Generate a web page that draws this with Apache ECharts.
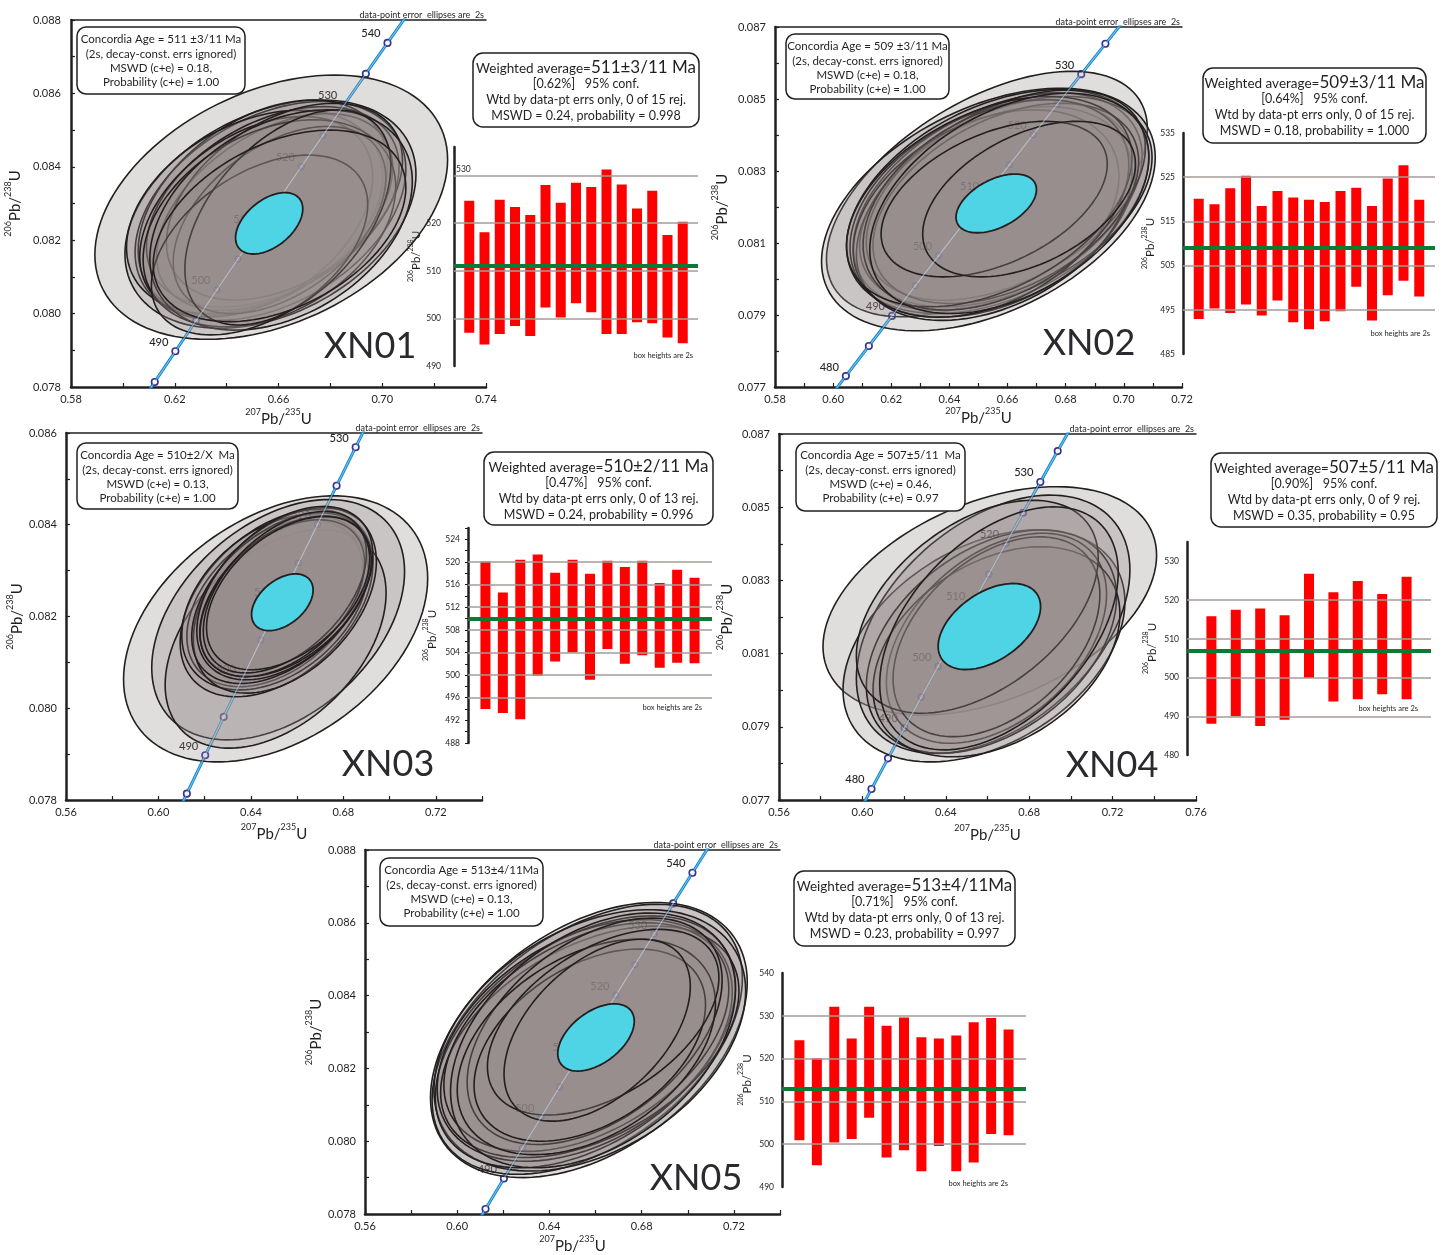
<!DOCTYPE html>
<html>
<head>
<meta charset="utf-8">
<title>U–Pb concordia and weighted mean ages, XN01–XN05</title>
<script src="https://cdn.jsdelivr.net/npm/echarts@6/dist/echarts.min.js"></script>
<style>
  html, body { margin: 0; padding: 0; background: #ffffff; }
  #chart { width: 1444px; height: 1255px; }
</style>
</head>
<body>
<div id="chart"></div>
<script>
// ---------------------------------------------------------------------------
// Decay constants (Jaffey et al. 1971) and the concordia ages that get a marker
// ---------------------------------------------------------------------------
const LAMBDA_238 = 1.55125e-10;
const LAMBDA_235 = 9.8485e-10;
const concordiaAges = [470, 475, 480, 485, 490, 495, 500, 505, 510, 515, 520, 525, 530, 535, 540, 545, 550, 555];

// Error ellipses: [207Pb/235U, 206Pb/238U, half-width x (2s), half-width y (2s), rho]

// ----- XN01 -----
const xn01Ellipses = [
  [0.6572, 0.08290, 0.0680, 0.00360, 0.36],
  [0.6569, 0.08271, 0.0561, 0.00311, 0.35],
  [0.6569, 0.08280, 0.0522, 0.00298, 0.38],
  [0.6540, 0.08289, 0.0481, 0.00293, 0.40],
  [0.6508, 0.08277, 0.0494, 0.00277, 0.35],
  [0.6578, 0.08291, 0.0487, 0.00273, 0.40],
  [0.6585, 0.08277, 0.0455, 0.00268, 0.45],
  [0.6514, 0.08264, 0.0449, 0.00273, 0.40],
  [0.6623, 0.08305, 0.0455, 0.00268, 0.42],
  [0.6565, 0.08246, 0.0487, 0.00282, 0.35],
  [0.6604, 0.08255, 0.0410, 0.00255, 0.45],
  [0.6610, 0.08255, 0.0506, 0.00300, 0.35],
  [0.6527, 0.08187, 0.0417, 0.00245, 0.45],
  [0.6636, 0.08262, 0.0397, 0.00293, 0.48],
  [0.6604, 0.08239, 0.0487, 0.00261, 0.40]
];
const xn01ConcordiaEllipse = [[0.6564, 0.08246, 0.01295, 0.000836, 0.47]];
const xn01AgeLow  = [497.0, 494.5, 496.7, 498.4, 496.3, 502.3, 500.2, 503.2, 501.3, 496.7, 496.7, 499.2, 499.0, 496.0, 494.8];
const xn01AgeHigh = [524.7, 518.1, 524.9, 523.4, 521.7, 528.0, 524.3, 528.5, 527.6, 531.3, 528.1, 523.1, 526.8, 517.5, 520.3];
const xn01WeightedAge = 511;
const xn01XLabels = [0.58, 0.62, 0.66, 0.70, 0.74];
const xn01YLabels = [0.078, 0.080, 0.082, 0.084, 0.086, 0.088];
const xn01BarLabels = [490, 500, 510, 520, 530];
const xn01BarLines = [500, 510, 520, 530];
const xn01ConcordiaText = ['Concordia Age = 511 ±3/11 Ma', '(2s, decay-const. errs ignored)', 'MSWD (c+e) = 0.18,', 'Probability (c+e) = 1.00'];
const xn01WeightedText = ['511±3/11 Ma', '[0.62%]   95% conf.', 'Wtd by data-pt errs only, 0 of 15 rej.', 'MSWD = 0.24, probability = 0.998'];

// ----- XN02 -----
const xn02Ellipses = [
  [0.6529, 0.08236, 0.0552, 0.00341, 0.53],
  [0.6534, 0.08193, 0.0574, 0.00337, 0.43],
  [0.6566, 0.08215, 0.0520, 0.00311, 0.40],
  [0.6566, 0.08215, 0.0497, 0.00302, 0.42],
  [0.6549, 0.08196, 0.0491, 0.00302, 0.36],
  [0.6594, 0.08215, 0.0503, 0.00292, 0.42],
  [0.6554, 0.08182, 0.0474, 0.00297, 0.38],
  [0.6594, 0.08233, 0.0480, 0.00292, 0.45],
  [0.6526, 0.08182, 0.0457, 0.00288, 0.36],
  [0.6594, 0.08210, 0.0457, 0.00278, 0.42],
  [0.6560, 0.08206, 0.0457, 0.00292, 0.38],
  [0.6537, 0.08215, 0.0491, 0.00292, 0.42],
  [0.6606, 0.08210, 0.0480, 0.00306, 0.42],
  [0.6554, 0.08222, 0.0389, 0.00216, 0.45],
  [0.6674, 0.08222, 0.0366, 0.00216, 0.45]
];
const xn02ConcordiaEllipse = [[0.6561, 0.08210, 0.01383, 0.000816, 0.47]];
const xn02AgeLow  = [492.9, 495.3, 494.3, 496.2, 493.7, 497.1, 492.2, 490.6, 492.4, 494.7, 500.2, 492.6, 498.3, 501.6, 498.0];
const xn02AgeHigh = [520.1, 518.9, 522.5, 525.3, 518.5, 521.9, 520.4, 519.9, 519.4, 521.9, 522.6, 518.5, 524.7, 527.7, 519.9];
const xn02WeightedAge = 509;
const xn02XLabels = [0.58, 0.60, 0.62, 0.64, 0.66, 0.68, 0.70, 0.72];
const xn02YLabels = [0.077, 0.079, 0.081, 0.083, 0.085, 0.087];
const xn02BarLabels = [485, 495, 505, 515, 525, 535];
const xn02BarLines = [495, 505, 515, 525];
const xn02ConcordiaText = ['Concordia Age = 509 ±3/11 Ma', '(2s, decay-const. errs ignored)', 'MSWD (c+e) = 0.18,', 'Probability (c+e) = 1.00'];
const xn02WeightedText = ['509±3/11 Ma', '[0.64%]   95% conf.', 'Wtd by data-pt errs only, 0 of 15 rej.', 'MSWD = 0.18, probability = 1.000'];

// ----- XN03 -----
const xn03Ellipses = [
  [0.6507, 0.08173, 0.0658, 0.00290, 0.38],
  [0.6518, 0.08193, 0.0547, 0.00262, 0.40],
  [0.6507, 0.08151, 0.0478, 0.00238, 0.42],
  [0.6511, 0.08229, 0.0417, 0.00204, 0.42],
  [0.6504, 0.08229, 0.0381, 0.00182, 0.40],
  [0.6504, 0.08231, 0.0403, 0.00191, 0.38],
  [0.6547, 0.08235, 0.0396, 0.00202, 0.42],
  [0.6529, 0.08240, 0.0385, 0.00186, 0.45],
  [0.6547, 0.08251, 0.0381, 0.00189, 0.44],
  [0.6550, 0.08244, 0.0371, 0.00175, 0.45],
  [0.6536, 0.08240, 0.0356, 0.00171, 0.45],
  [0.6547, 0.08253, 0.0353, 0.00176, 0.48],
  [0.6561, 0.08251, 0.0353, 0.00167, 0.45]
];
const xn03ConcordiaEllipse = [[0.6536, 0.08231, 0.01331, 0.000618, 0.43]];
const xn03AgeLow  = [494.0, 493.3, 492.2, 499.9, 502.4, 504.0, 499.2, 504.6, 502.0, 503.5, 501.3, 502.2, 502.1];
const xn03AgeHigh = [520.1, 514.6, 520.4, 521.3, 518.1, 520.4, 517.9, 520.2, 519.1, 520.2, 516.3, 518.6, 517.2];
const xn03WeightedAge = 510;
const xn03XLabels = [0.56, 0.60, 0.64, 0.68, 0.72];
const xn03YLabels = [0.078, 0.080, 0.082, 0.084, 0.086];
const xn03BarLabels = [488, 492, 496, 500, 504, 508, 512, 516, 520, 524];
const xn03BarLines = [496, 500, 504, 508, 512, 516, 520];
const xn03ConcordiaText = ['Concordia Age = 510±2/X  Ma', '(2s, decay-const. errs ignored)', 'MSWD (c+e) = 0.13,', 'Probability (c+e) = 1.00'];
const xn03WeightedText = ['510±2/11 Ma', '[0.47%]   95% conf.', 'Wtd by data-pt errs only, 0 of 13 rej.', 'MSWD = 0.24, probability = 0.996'];

// ----- XN04 -----
const xn04Ellipses = [
  [0.6611, 0.08244, 0.0800, 0.00312, 0.40],
  [0.6583, 0.08121, 0.0676, 0.00317, 0.38],
  [0.6627, 0.08180, 0.0656, 0.00353, 0.42],
  [0.6619, 0.08133, 0.0600, 0.00305, 0.40],
  [0.6643, 0.08142, 0.0528, 0.00287, 0.42],
  [0.6643, 0.08105, 0.0592, 0.00287, 0.36],
  [0.6643, 0.08146, 0.0496, 0.00273, 0.42],
  [0.6551, 0.08228, 0.0580, 0.00291, 0.46],
  [0.6655, 0.08169, 0.0572, 0.00332, 0.46]
];
const xn04ConcordiaEllipse = [[0.6609, 0.08174, 0.02456, 0.001175, 0.46]];
const xn04AgeLow  = [488.1, 490.0, 487.5, 489.1, 499.9, 493.8, 494.4, 495.7, 494.4];
const xn04AgeHigh = [515.8, 517.5, 517.8, 516.1, 526.8, 522.0, 524.9, 521.6, 526.0];
const xn04WeightedAge = 507;
const xn04XLabels = [0.56, 0.60, 0.64, 0.68, 0.72, 0.76];
const xn04YLabels = [0.077, 0.079, 0.081, 0.083, 0.085, 0.087];
const xn04BarLabels = [480, 490, 500, 510, 520, 530];
const xn04BarLines = [490, 500, 510, 520];
const xn04ConcordiaText = ['Concordia Age = 507±5/11  Ma', '(2s, decay-const. errs ignored)', 'MSWD (c+e) = 0.46,', 'Probability (c+e) = 0.97'];
const xn04WeightedText = ['507±5/11 Ma', '[0.90%]   95% conf.', 'Wtd by data-pt errs only, 0 of 9 rej.', 'MSWD = 0.35, probability = 0.95'];

// ----- XN05 -----
const xn05Ellipses = [
  [0.6571, 0.08278, 0.0687, 0.00378, 0.42],
  [0.6564, 0.08280, 0.0673, 0.00371, 0.45],
  [0.6575, 0.08277, 0.0676, 0.00359, 0.38],
  [0.6556, 0.08273, 0.0651, 0.00346, 0.44],
  [0.6553, 0.08277, 0.0640, 0.00332, 0.40],
  [0.6575, 0.08273, 0.0647, 0.00318, 0.44],
  [0.6560, 0.08286, 0.0618, 0.00314, 0.42],
  [0.6589, 0.08277, 0.0618, 0.00350, 0.40],
  [0.6596, 0.08302, 0.0553, 0.00311, 0.45],
  [0.6560, 0.08259, 0.0560, 0.00296, 0.40],
  [0.6575, 0.08264, 0.0502, 0.00264, 0.42],
  [0.6633, 0.08327, 0.0502, 0.00255, 0.48],
  [0.6607, 0.08305, 0.0404, 0.00250, 0.48]
];
const xn05ConcordiaEllipse = [[0.6602, 0.08285, 0.01658, 0.000923, 0.48]];
const xn05AgeLow  = [500.9, 495.1, 500.4, 501.2, 506.2, 496.9, 498.6, 493.7, 499.6, 493.7, 495.7, 502.4, 502.1];
const xn05AgeHigh = [524.3, 520.1, 532.1, 524.7, 532.1, 527.7, 529.6, 525.0, 524.7, 525.4, 528.5, 529.5, 526.8];
const xn05WeightedAge = 513;
const xn05XLabels = [0.56, 0.60, 0.64, 0.68, 0.72];
const xn05YLabels = [0.078, 0.080, 0.082, 0.084, 0.086, 0.088];
const xn05BarLabels = [490, 500, 510, 520, 530, 540];
const xn05BarLines = [500, 510, 520, 530];
const xn05ConcordiaText = ['Concordia Age = 513±4/11Ma', '(2s, decay-const. errs ignored)', 'MSWD (c+e) = 0.13,', 'Probability (c+e) = 1.00'];
const xn05WeightedText = ['513±4/11Ma', '[0.71%]   95% conf.', 'Wtd by data-pt errs only, 0 of 13 rej.', 'MSWD = 0.23, probability = 0.997'];

// ---------------------------------------------------------------------------
// Styling and layout
// ---------------------------------------------------------------------------
const FONT = 'Lato, "Noto Sans", sans-serif';
const INK = '#231f20';
const ELLIPSE_FILL = 'rgba(153,143,141,0.30)';
const CYAN = '#4fd4e6';
const CONCORDIA_BLUE = '#0a88cf';
const MARKER_BLUE = '#2e3192';
const BAR_RED = '#ff0000';
const MEAN_GREEN = '#0b7a33';
const GRID_GREY = '#a39c99';

const panels = [
  {
    id: 'XN01', ell: xn01Ellipses, mean: xn01ConcordiaEllipse, lo: xn01AgeLow, hi: xn01AgeHigh, wtd: xn01WeightedAge,
    xLabels: xn01XLabels, yLabels: xn01YLabels, barLabels: xn01BarLabels, barLines: xn01BarLines,
    concText: xn01ConcordiaText, wText: xn01WeightedText,
    conc: { left: 71, top: 20, width: 415, height: 367, xMax: 0.74, xTick: 0.02, yMax: 0.088, yGap: 48, xGap: 21, yMargin: 10 },
    bar: { left: 454, top: 147, width: 244, height: 219, max: 536, interval: 10, nameGap: 19, margin: 13, topInside: 530 },
    cBox: [77, 27, 168, 67], wBox: [473, 53, 226, 74], idPos: [370, 346], boxNote: [693, 356]
  },
  {
    id: 'XN02', ell: xn02Ellipses, mean: xn02ConcordiaEllipse, lo: xn02AgeLow, hi: xn02AgeHigh, wtd: xn02WeightedAge,
    xLabels: xn02XLabels, yLabels: xn02YLabels, barLabels: xn02BarLabels, barLines: xn02BarLines,
    concText: xn02ConcordiaText, wText: xn02WeightedText,
    conc: { left: 775, top: 27, width: 407, height: 360, xMax: 0.72, xTick: 0.01, yMax: 0.087, yGap: 45, xGap: 20, yMargin: 9 },
    bar: { left: 1183, top: 133, width: 252, height: 221, max: 535, interval: 10, nameGap: 26, margin: 8 },
    cBox: [786, 34, 163, 65], wBox: [1203, 68, 223, 75], idPos: [1089, 343], boxNote: [1430, 334]
  },
  {
    id: 'XN03', ell: xn03Ellipses, mean: xn03ConcordiaEllipse, lo: xn03AgeLow, hi: xn03AgeHigh, wtd: xn03WeightedAge,
    xLabels: xn03XLabels, yLabels: xn03YLabels, barLabels: xn03BarLabels, barLines: xn03BarLines,
    concText: xn03ConcordiaText, wText: xn03WeightedText,
    conc: { left: 66, top: 433, width: 416, height: 367, xMax: 0.74, xTick: 0.02, yMax: 0.086, yGap: 39, xGap: 23, yMargin: 9 },
    bar: { left: 468, top: 528, width: 244, height: 215, max: 526, interval: 4, nameGap: 30, margin: 8, ticks: true },
    cBox: [77, 443, 161, 66], wBox: [484, 452, 229, 73], idPos: [388, 764], boxNote: [702, 708]
  },
  {
    id: 'XN04', ell: xn04Ellipses, mean: xn04ConcordiaEllipse, lo: xn04AgeLow, hi: xn04AgeHigh, wtd: xn04WeightedAge,
    xLabels: xn04XLabels, yLabels: xn04YLabels, barLabels: xn04BarLabels, barLines: xn04BarLines,
    concText: xn04ConcordiaText, wText: xn04WeightedText,
    conc: { left: 779, top: 434, width: 417, height: 366, xMax: 0.76, xTick: 0.02, yMax: 0.087, yGap: 44, xGap: 24, yMargin: 9 },
    bar: { left: 1187, top: 542, width: 244, height: 213, max: 535, interval: 10, nameGap: 29, margin: 8 },
    cBox: [796, 443, 169, 68], wBox: [1211, 453, 226, 74], idPos: [1112, 765], boxNote: [1418, 709]
  },
  {
    id: 'XN05', ell: xn05Ellipses, mean: xn05ConcordiaEllipse, lo: xn05AgeLow, hi: xn05AgeHigh, wtd: xn05WeightedAge,
    xLabels: xn05XLabels, yLabels: xn05YLabels, barLabels: xn05BarLabels, barLines: xn05BarLines,
    concText: xn05ConcordiaText, wText: xn05WeightedText,
    conc: { left: 365, top: 850, width: 415, height: 367, xMax: 0.74, xTick: 0.02, yMax: 0.088, yGap: 40, xGap: 21, yMargin: 9 },
    bar: { left: 782, top: 973, width: 244, height: 214, max: 540, interval: 10, nameGap: 29, margin: 8 },
    cBox: [380, 858, 163, 68], wBox: [794, 871, 221, 75], idPos: [696, 1178], boxNote: [1008, 1184]
  }
];

// ---------------------------------------------------------------------------
// Helpers
// ---------------------------------------------------------------------------
const isListed = (v, list) => list.some(t => Math.abs(t - v) < 1e-7);

function concordiaPoint(t) {
  return [Math.expm1(LAMBDA_235 * t * 1e6), Math.expm1(LAMBDA_238 * t * 1e6), t];
}
const concordiaData = concordiaAges.map(concordiaPoint);

function ellipseRenderer(style) {
  return function (params, api) {
    const cx = api.value(0), cy = api.value(1), sx = api.value(2), sy = api.value(3), r = api.value(4);
    const k = Math.sqrt(1 - r * r);
    const pts = [];
    const n = 120;
    for (let i = 0; i < n; i++) {
      const a = (i / n) * 2 * Math.PI;
      const c = Math.cos(a), s = Math.sin(a);
      pts.push(api.coord([cx + sx * c, cy + sy * (r * c + k * s)]));
    }
    return { type: 'polygon', shape: { points: pts }, style: Object.assign({}, style) };
  };
}

function errorBoxRenderer(params, api) {
  const top = api.coord([api.value(0), api.value(2)]);
  const bottom = api.coord([api.value(0), api.value(1)]);
  const w = 10;
  return {
    type: 'rect',
    shape: { x: top[0] - w / 2, y: top[1], width: w, height: bottom[1] - top[1] },
    style: { fill: BAR_RED }
  };
}

const isoRich = (main, sup) => ({
  m: { fontSize: main, fontFamily: FONT, color: INK, lineHeight: main + 4, verticalAlign: 'bottom' },
  s: { fontSize: sup, fontFamily: FONT, color: INK, lineHeight: sup + 4, verticalAlign: 'top' }
});
const RATIO_206_238 = '{s|206}{m|Pb/}{s|238}{m|U}';
const RATIO_207_235 = '{s|207}{m|Pb/}{s|235}{m|U}';

// ---------------------------------------------------------------------------
// Build grids, axes, series and text
// ---------------------------------------------------------------------------
const grid = [], xAxis = [], yAxis = [], series = [], graphic = [];

panels.forEach(p => {
  const c = p.conc, b = p.bar;

  // ---- concordia diagram ----
  const gi = grid.length;
  grid.push({ left: c.left, top: c.top, width: c.width, height: c.height });
  const xi = xAxis.length;
  xAxis.push({
    gridIndex: gi, type: 'value', position: 'bottom',
    min: p.xLabels[0], max: c.xMax, interval: c.xTick,
    axisLine: { show: true, onZero: false, lineStyle: { color: INK, width: 2.5 } },
    axisTick: { show: true, inside: true, length: 4, lineStyle: { color: INK, width: 1.2 } },
    axisLabel: {
      color: INK, fontSize: 11, fontFamily: FONT, margin: 7, showMinLabel: true, showMaxLabel: true,
      formatter: v => (isListed(v, p.xLabels) ? v.toFixed(2) : '')
    },
    splitLine: { show: false },
    name: RATIO_207_235, nameLocation: 'middle', nameGap: c.xGap,
    nameTextStyle: { rich: isoRich(15, 9) }
  });
  xAxis.push({
    gridIndex: gi, type: 'value', position: 'top',
    min: p.xLabels[0], max: c.xMax,
    axisLine: { show: true, onZero: false, lineStyle: { color: INK, width: 1.5 } },
    axisTick: { show: false }, axisLabel: { show: false }, splitLine: { show: false }
  });
  const yi = yAxis.length;
  yAxis.push({
    gridIndex: gi, type: 'value', position: 'left',
    min: p.yLabels[0], max: c.yMax, interval: 0.001,
    axisLine: { show: true, onZero: false, lineStyle: { color: INK, width: 2.5 } },
    axisTick: { show: true, inside: true, length: 4, lineStyle: { color: INK, width: 1.2 } },
    axisLabel: {
      color: INK, fontSize: 11, fontFamily: FONT, margin: c.yMargin, showMinLabel: true, showMaxLabel: true,
      formatter: v => (isListed(v, p.yLabels) ? v.toFixed(3) : '')
    },
    splitLine: { show: false },
    name: RATIO_206_238, nameLocation: 'middle', nameGap: c.yGap, nameRotate: 90,
    nameTextStyle: { rich: isoRich(15, 9) }
  });

  const ageLabel = (color) => ({
    show: true, position: 'left', distance: 3, offset: [0, -9],
    color: color, fontSize: 11, fontFamily: FONT,
    formatter: q => (q.value[2] % 10 === 0 ? String(q.value[2]) : '')
  });

  series.push({
    type: 'line', xAxisIndex: xi, yAxisIndex: yi, data: concordiaData, z: 2, clip: true,
    symbol: 'circle', symbolSize: 6.5, showSymbol: true, smooth: false,
    lineStyle: { color: CONCORDIA_BLUE, width: 3 },
    itemStyle: { color: '#ffffff', borderColor: MARKER_BLUE, borderWidth: 1.6 },
    label: ageLabel(INK), emphasis: { disabled: true }, silent: true
  });
  series.push({
    type: 'custom', xAxisIndex: xi, yAxisIndex: yi, data: p.ell, z: 3,
    encode: { x: 0, y: 1 },
    renderItem: ellipseRenderer({ fill: ELLIPSE_FILL, stroke: INK, lineWidth: 1.6 }),
    silent: true
  });
  // faint trace of the concordia seen through the stacked ellipses
  series.push({
    type: 'line', xAxisIndex: xi, yAxisIndex: yi, data: concordiaData, z: 4, clip: true,
    symbol: 'circle', symbolSize: 6, showSymbol: true,
    lineStyle: { color: 'rgba(205,228,242,0.55)', width: 1.2 },
    itemStyle: { color: 'rgba(0,0,0,0)', borderColor: 'rgba(70,80,160,0.25)', borderWidth: 1 },
    label: ageLabel('rgba(35,31,32,0.22)'), emphasis: { disabled: true }, silent: true
  });
  series.push({
    type: 'custom', xAxisIndex: xi, yAxisIndex: yi, data: p.mean, z: 5,
    encode: { x: 0, y: 1 },
    renderItem: ellipseRenderer({ fill: CYAN, stroke: INK, lineWidth: 1.8 }),
    silent: true
  });

  // ---- weighted mean plot ----
  const bgi = grid.length;
  grid.push({ left: b.left, top: b.top, width: b.width, height: b.height });
  const bxi = xAxis.length;
  xAxis.push({ gridIndex: bgi, type: 'value', min: 0, max: p.lo.length + 1, show: false });
  const byi = yAxis.length;
  yAxis.push({
    gridIndex: bgi, type: 'value', position: 'left',
    min: p.barLabels[0], max: b.max, interval: b.interval,
    axisLine: { show: true, onZero: false, lineStyle: { color: INK, width: 2.5 } },
    axisTick: b.ticks ? { show: true, length: 3, lineStyle: { color: INK, width: 1 } } : { show: false },
    minorTick: b.ticks ? { show: true, splitNumber: 2, length: 3, lineStyle: { color: INK, width: 1 } } : { show: false },
    axisLabel: {
      color: INK, fontSize: 8.5, fontFamily: FONT, margin: b.margin, showMinLabel: true, showMaxLabel: true,
      formatter: v => (isListed(v, p.barLabels) && v !== b.topInside ? String(v) : '')
    },
    splitLine: { show: false },
    name: RATIO_206_238, nameLocation: 'middle', nameGap: b.nameGap, nameRotate: 90,
    nameTextStyle: { rich: isoRich(11.5, 7) }
  });

  series.push({
    type: 'line', xAxisIndex: bxi, yAxisIndex: byi, data: [], z: 1, silent: true,
    markLine: {
      silent: true, symbol: 'none', animation: false,
      lineStyle: { color: GRID_GREY, width: 1.6, type: 'solid' },
      label: { show: false },
      data: p.barLines.map(v => ({
        yAxis: v,
        label: v === b.topInside
          ? { show: true, position: 'insideStartTop', distance: 2, formatter: String(v), color: INK, fontSize: 8.5, fontFamily: FONT }
          : { show: false }
      }))
    }
  });
  series.push({
    type: 'custom', xAxisIndex: bxi, yAxisIndex: byi, z: 2, silent: true,
    encode: { x: 0, y: [1, 2] },
    data: p.lo.map((v, i) => [i + 1, v, p.hi[i]]),
    renderItem: errorBoxRenderer
  });
  series.push({
    type: 'line', xAxisIndex: bxi, yAxisIndex: byi, data: [], z: 3, silent: true,
    markLine: {
      silent: true, symbol: 'none', animation: false,
      lineStyle: { color: MEAN_GREEN, width: 4, type: 'solid' },
      label: { show: false },
      data: [{ yAxis: p.wtd }]
    }
  });

  // ---- annotation text ----
  const [cbx, cby, cbw, cbh] = p.cBox;
  graphic.push({ type: 'rect', z: 50, shape: { x: cbx, y: cby, width: cbw, height: cbh, r: 9 },
    style: { fill: '#ffffff', stroke: INK, lineWidth: 1.5 } });
  p.concText.forEach((t, i) => graphic.push({
    type: 'text', z: 51,
    style: { text: t, x: cbx + cbw / 2, y: cby + 12.5 + i * 14.3, align: 'center', verticalAlign: 'middle',
      fontSize: 11.5, fontFamily: FONT, fill: INK }
  }));

  const [wbx, wby, wbw, wbh] = p.wBox;
  graphic.push({ type: 'rect', z: 50, shape: { x: wbx, y: wby, width: wbw, height: wbh, r: 10 },
    style: { fill: '#ffffff', stroke: INK, lineWidth: 1.5 } });
  graphic.push({
    type: 'text', z: 51,
    style: {
      text: '{a|Weighted average=}{b|' + p.wText[0] + '}', x: wbx + wbw / 2, y: wby + 13,
      align: 'center', verticalAlign: 'middle', fill: INK,
      rich: {
        a: { fontSize: 13.5, fontFamily: FONT, fill: INK, verticalAlign: 'bottom', lineHeight: 20 },
        b: { fontSize: 17, fontFamily: FONT, fill: INK, verticalAlign: 'bottom', lineHeight: 20 }
      }
    }
  });
  p.wText.slice(1).forEach((t, i) => graphic.push({
    type: 'text', z: 51,
    style: { text: t, x: wbx + wbw / 2, y: wby + 31 + i * 16, align: 'center', verticalAlign: 'middle',
      fontSize: 12.5, fontFamily: FONT, fill: INK }
  }));

  graphic.push({
    type: 'text', z: 51,
    style: { text: 'data-point error  ellipses are  2s', x: c.left + c.width - 2, y: c.top - 5,
      align: 'right', verticalAlign: 'middle', fontSize: 9, fontFamily: FONT, fill: INK }
  });
  graphic.push({
    type: 'text', z: 51,
    style: { text: 'box heights are 2s', x: p.boxNote[0], y: p.boxNote[1],
      align: 'right', verticalAlign: 'middle', fontSize: 7.5, fontFamily: FONT, fill: INK }
  });
  graphic.push({
    type: 'text', z: 51,
    style: { text: p.id, x: p.idPos[0], y: p.idPos[1], align: 'center', verticalAlign: 'middle',
      fontSize: 36, fontFamily: FONT, fill: '#2a2a2e' }
  });
});

const chart = echarts.init(document.getElementById('chart'), null, { renderer: 'canvas' });
chart.setOption({
  backgroundColor: '#ffffff',
  animation: false,
  grid, xAxis, yAxis, series, graphic
});
</script>
</body>
</html>
